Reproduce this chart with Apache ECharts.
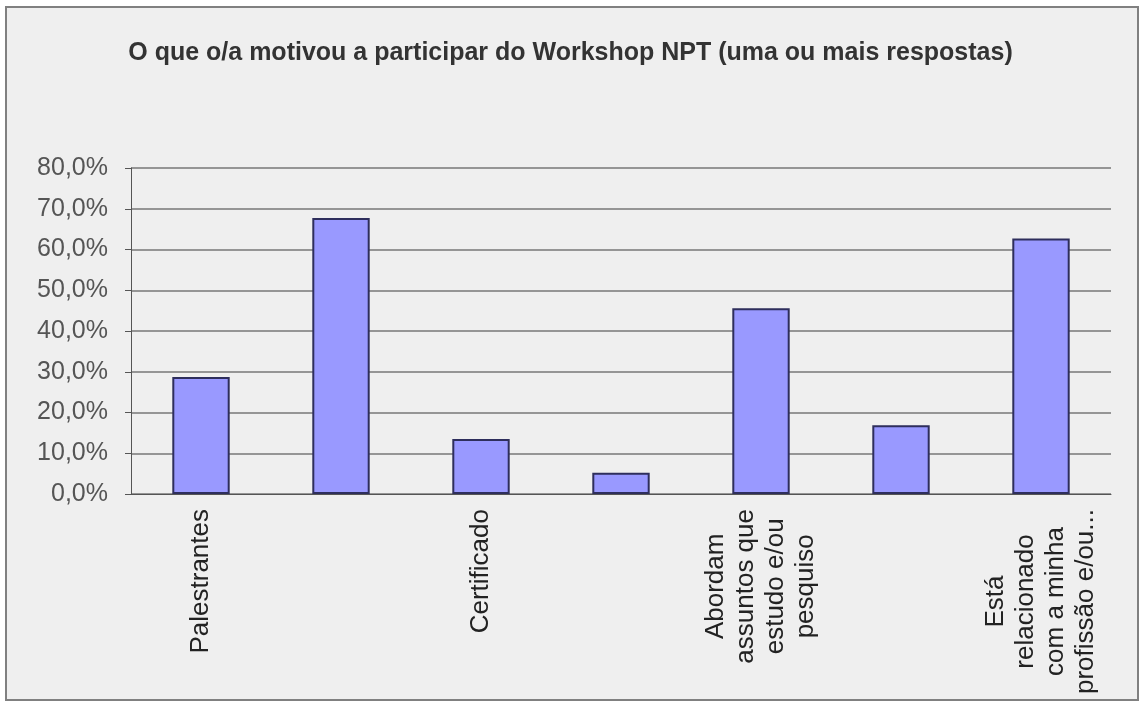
<!DOCTYPE html>
<html>
<head>
<meta charset="utf-8">
<script src="https://cdn.jsdelivr.net/npm/echarts@6/dist/echarts.min.js"></script>
<style>
  body { margin: 0; background: #fff; }
</style>
</head>
<body>
<div id="main" style="width: 1141px; height: 704px"></div>
<script>
var titleText = "O que o/a motivou a participar do Workshop NPT (uma ou mais respostas)";
// labels of 2nd, 4th and 6th bars are not shown in the picture
var categories = [
  "Palestrantes",
  "",
  "Certificado",
  "",
  "Abordam\nassuntos que\nestudo e/ou\npesquiso",
  "",
  "Está\nrelacionado\ncom a minha\nprofissão e/ou..."
];
var values = [28.7, 67.7, 13.5, 5.2, 45.6, 16.9, 62.7];
var yMax = 80;
var yStep = 10;

var chart = echarts.init(document.getElementById("main"));

var option = {
  animation: false,
  backgroundColor: "transparent",
  title: {
    text: titleText,
    left: "center",
    top: 36,
    textStyle: {
      fontFamily: "'Liberation Sans', Arial, sans-serif",
      fontSize: 25,
      fontWeight: "bold",
      color: "#333"
    }
  },
  graphic: [
    {
      type: "rect",
      z: -10,
      shape: { x: 6, y: 7, width: 1132, height: 693 },
      style: { fill: "#efefef", stroke: "#808080", lineWidth: 2 }
    }
  ],
  grid: { left: 131, right: 30, top: 168, bottom: 210 },
  xAxis: {
    type: "category",
    data: categories,
    axisLine: { lineStyle: { color: "#555", width: 1 } },
    axisTick: { length: 7, lineStyle: { color: "#555" } },
    axisLabel: {
      interval: 1,
      rotate: 90,
      margin: 15,
      fontFamily: "'Liberation Sans', Arial, sans-serif",
      fontSize: 26,
      lineHeight: 30,
      color: "#222",
      formatter: function (v) {
        return v.split("\n").map(function (l) { return "{c|" + l + "}"; }).join("\n");
      },
      rich: {
        c: {
          align: "center",
          fontFamily: "'Liberation Sans', Arial, sans-serif",
          fontSize: 26,
          lineHeight: 30,
          color: "#222"
        }
      }
    }
  },
  yAxis: {
    type: "value",
    min: 0,
    max: yMax,
    interval: yStep,
    axisLine: { show: true, lineStyle: { color: "#555", width: 1 } },
    axisTick: { show: true, length: 6, lineStyle: { color: "#555" } },
    splitLine: { lineStyle: { color: "#777", width: 1.5 } },
    axisLabel: {
      margin: 23,
      fontFamily: "'Liberation Sans', Arial, sans-serif",
      fontSize: 25,
      color: "#555",
      formatter: function (v) {
        return v.toFixed(1).replace(".", ",") + "%";
      }
    }
  },
  series: [
    {
      type: "bar",
      data: values,
      barWidth: "41%",
      itemStyle: {
        color: "#9999ff",
        borderColor: "#2e2e5c",
        borderWidth: 2
      }
    }
  ]
};

chart.setOption(option);
</script>
</body>
</html>
